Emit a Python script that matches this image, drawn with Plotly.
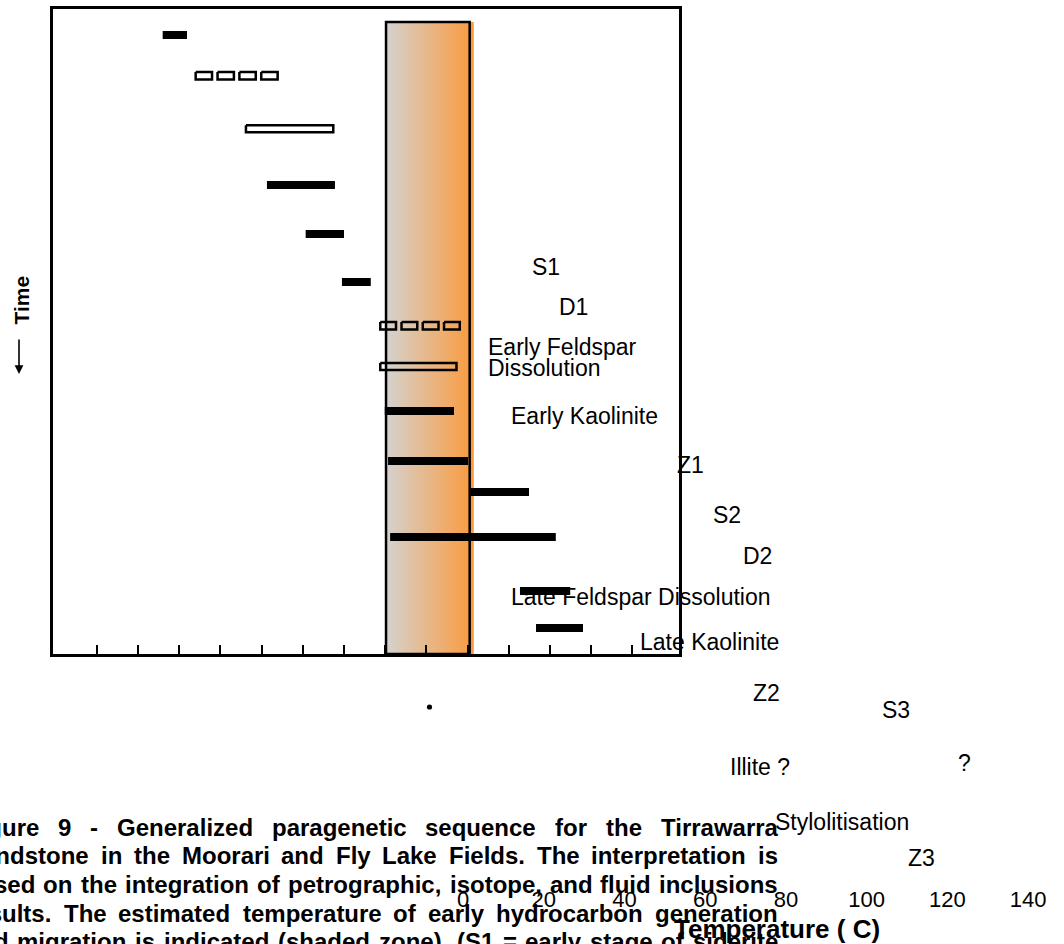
import plotly.graph_objects as go

W, H = 1064, 944

# ---------------- data ----------------
processes = ["S1", "D1", "Early Feldspar Dissolution", "Early Kaolinite", "Z1", "S2", "D2",
             "Late Feldspar Dissolution", "Late Kaolinite", "Z2", "S3", "Illite ?",
             "Stylolitisation", "Z3"]
rel_time = [2.06, 8.51, 16.88, 25.79, 33.54, 41.14, 48.07, 54.51, 61.55, 69.46, 74.37, 81.49,
            90.03, 95.89]
temp_start = [26.0, 33.7, 45.9, 51.3, 60.7, 69.5, 78.5, 78.5, 79.9, 80.7, 100.8, 81.2, 112.7, 116.6]
temp_end = [31.9, 54.2, 67.7, 67.8, 70.0, 76.5, 98.4, 97.6, 96.7, 100.1, 114.9, 121.4, 124.9, 128.0]
occurrence = ["common", "possible", "minor", "common", "common", "common", "possible",
              "minor", "common", "common", "common", "common", "common", "common"]
hc_zone = [80.2, 100.5]          # early hydrocarbon generation / migration (deg C)
axis_ticks = [10, 20, 30, 40, 50, 60, 70, 80, 90, 100, 110, 120, 130, 140]
temp_labels = [0, 20, 40, 60, 80, 100, 120, 140]
axis_title = "Temperature ( C)"
time_label = "Time"
caption_lines = [
    "Figure 9 - Generalized paragenetic sequence for the Tirrawarra",
    "Sandstone in the Moorari and Fly Lake Fields. The interpretation is",
    "based on the integration of petrographic, isotope, and fluid inclusions",
    "results. The estimated temperature of early hydrocarbon generation",
    "and migration is indicated (shaded zone). (S1 = early stage of siderite",
]

# ---------------- layout / style (pixels) ----------------
FONT = "Liberation Sans, Arial, Helvetica, sans-serif"
PLOT_X = (53, 679)
PLOT_Y = (9, 654)
X_RANGE = [-0.62, 151.3]
Y_RANGE = [100, -2.06]
STROKE = 2.5
BAR_H = {"common": 1.27, "minor": 1.1, "possible": 1.2}
ZONE_FILL_EXTRA = 1.0
label_pos = {
    "S1": [(531.7, 267.3)],
    "D1": [(559.0, 307.3)],
    "Early Feldspar Dissolution": [(487.7, 347.3), (487.7, 368.3)],
    "Early Kaolinite": [(510.7, 415.7)],
    "Z1": [(676.7, 465.0)],
    "S2": [(713.3, 515.0)],
    "D2": [(743.3, 556.0)],
    "Late Feldspar Dissolution": [(510.7, 596.7)],
    "Late Kaolinite": [(640.0, 641.7)],
    "Z2": [(753.0, 693.3)],
    "S3": [(881.7, 710.0)],
    "Illite ?": [(730.0, 766.7)],
    "Stylolitisation": [(775.0, 821.7)],
    "Z3": [(908.3, 858.3)],
}
label_lines = {"Early Feldspar Dissolution": ["Early Feldspar", "Dissolution"]}
question_pos = (958.0, 763.3)
dot_pos = (429.5, 707.0)
tick_label_zero_px = 463.0
tick_label_px_per_deg = 4.036
tick_axis_y = 884.0
caption_col = (-34.0, 778.0)
caption_y0, caption_dy = 827.0, 28.7


def px(x):
    return x / W


def py(y):
    return 1 - y / H


# Arial-Bold compatible advance widths (1/1000 em)
BOLD_W = {" ": 278, "-": 333, ".": 278, ",": 278, "(": 333, ")": 333, "=": 584,
          "F": 611, "G": 778, "L": 611, "M": 833, "S": 667, "T": 611,
          "a": 556, "b": 611, "c": 556, "d": 611, "e": 556, "f": 333, "g": 611, "h": 611,
          "i": 278, "j": 278, "k": 556, "l": 278, "m": 889, "n": 611, "o": 611, "p": 611,
          "q": 611, "r": 389, "s": 556, "t": 333, "u": 611, "v": 556, "w": 778, "x": 556,
          "y": 556, "z": 500}


def text_w(s, size):
    return sum(BOLD_W.get(c, 556) for c in s) * size / 1000.0


fig = go.Figure()

px_per_T = (PLOT_X[1] - PLOT_X[0]) / (X_RANGE[1] - X_RANGE[0])

# shaded zone with horizontal gradient (drawn first, under the bars)
z0, z1 = hc_zone
fig.add_trace(go.Scatter(
    x=[z0, z1 + ZONE_FILL_EXTRA, z1 + ZONE_FILL_EXTRA, z0, z0], y=[0, 0, 100, 100, 0],
    mode="lines", fill="toself", line=dict(width=0),
    fillgradient=dict(type="horizontal", colorscale=[[0, "#d5d2cf"], [1, "#fb9a3c"]]),
    hoverinfo="skip", showlegend=False))


def rect(s, e, t, h):
    return [s, e, e, s, s, None], [t - h / 2, t - h / 2, t + h / 2, t + h / 2, t - h / 2, None]


inset = (STROKE / 2) / px_per_T
gapT = (3 + STROKE) / px_per_T
solid_x, solid_y, open_x, open_y = [], [], [], []
for t, s, e, kind in zip(rel_time, temp_start, temp_end, occurrence):
    h = BAR_H[kind]
    if kind == "common":
        rx, ry = rect(s, e, t, h)
        solid_x += rx
        solid_y += ry
    elif kind == "minor":
        rx, ry = rect(s + inset, e - inset, t, h)
        open_x += rx
        open_y += ry
    else:
        s2, e2 = s + inset, e - inset
        seg = (e2 - s2 - 3 * gapT) / 4
        for k in range(4):
            b = s2 + k * (seg + gapT)
            rx, ry = rect(b, b + seg, t, h)
            open_x += rx
            open_y += ry

fig.add_trace(go.Scatter(x=solid_x, y=solid_y, mode="lines", fill="toself",
                         fillcolor="black", line=dict(width=0), hoverinfo="skip",
                         showlegend=False))
fig.add_trace(go.Scatter(x=open_x, y=open_y, mode="lines",
                         line=dict(color="black", width=STROKE), hoverinfo="skip",
                         showlegend=False))

# invisible trace to carry the displaced tick-label axis
fig.add_trace(go.Scatter(x=[temp_labels[0], temp_labels[-1]], y=[0.5, 0.5], xaxis="x2",
                         yaxis="y2", mode="markers", marker=dict(opacity=0),
                         hoverinfo="skip", showlegend=False))

annotations = []
for name in processes:
    lines = label_lines.get(name, [name])
    for txt, (lx, ly) in zip(lines, label_pos[name]):
        annotations.append(dict(text=txt, x=px(lx), y=py(ly), xref="paper", yref="paper",
                                xanchor="left", yanchor="middle", showarrow=False,
                                borderpad=0, borderwidth=0,
                                font=dict(size=23, family=FONT, color="black")))
annotations.append(dict(text="?", x=px(question_pos[0]), y=py(question_pos[1]), xref="paper",
                        yref="paper", xanchor="left", yanchor="middle", showarrow=False,
                        borderpad=0, borderwidth=0,
                        font=dict(size=23, family=FONT, color="black")))

# caption, justified word by word
cl, cr = caption_col
for i, line in enumerate(caption_lines):
    words = line.split(" ")
    widths = [text_w(w, 24) for w in words]
    gap = (cr - cl - sum(widths)) / (len(words) - 1)
    x = cl
    yc = caption_y0 + caption_dy * i
    for w, wd in zip(words, widths):
        annotations.append(dict(text="<b>" + w + "</b>", x=px(x), y=py(yc), xref="paper",
                                yref="paper", xanchor="left", yanchor="middle",
                                showarrow=False, borderpad=0, borderwidth=0,
                                font=dict(size=24, family=FONT, color="black")))
        x += wd + gap

annotations.append(dict(text="<b>" + axis_title + "</b>", x=px(777), y=py(929), xref="paper",
                        yref="paper", xanchor="center", yanchor="middle", showarrow=False,
                        font=dict(size=26, family=FONT, color="black")))
annotations.append(dict(text="<b>" + time_label + "</b>", x=px(20.5), y=py(300), xref="paper",
                        yref="paper", xanchor="center", yanchor="middle", textangle=-90,
                        showarrow=False, font=dict(size=21, family=FONT, color="black")))
annotations.append(dict(text="", x=px(19), y=py(374), xref="paper", yref="paper",
                        ax=0, ay=-36, showarrow=True, arrowhead=2, arrowsize=1.1,
                        arrowwidth=1.6, arrowcolor="black"))

shapes = [
    dict(type="rect", xref="x", yref="y", x0=z0, x1=z1, y0=0, y1=100,
         line=dict(color="black", width=STROKE), fillcolor="rgba(0,0,0,0)"),
    dict(type="circle", xref="paper", yref="paper", x0=px(dot_pos[0] - 2.6),
         x1=px(dot_pos[0] + 2.6), y0=py(dot_pos[1] + 2.6), y1=py(dot_pos[1] - 2.6),
         fillcolor="black", line=dict(width=0)),
]

r2_lo = (0 - tick_label_zero_px) / tick_label_px_per_deg
r2_hi = (W - tick_label_zero_px) / tick_label_px_per_deg

fig.update_layout(
    width=W, height=H, margin=dict(l=0, r=0, t=0, b=0, pad=0),
    paper_bgcolor="white", plot_bgcolor="rgba(0,0,0,0)",
    showlegend=False,
    xaxis=dict(domain=[px(PLOT_X[0]), px(PLOT_X[1])], range=X_RANGE, showgrid=False,
               zeroline=False, showline=True, linecolor="black", linewidth=STROKE, mirror=True,
               ticks="inside", ticklen=9, tickwidth=2, tickcolor="black",
               tickvals=axis_ticks, showticklabels=False, fixedrange=True),
    yaxis=dict(domain=[py(PLOT_Y[1]), py(PLOT_Y[0])], range=Y_RANGE, showgrid=False,
               zeroline=False, showline=True, linecolor="black", linewidth=STROKE, mirror=True,
               ticks="", showticklabels=False, fixedrange=True),
    xaxis2=dict(domain=[0, 1], anchor="free", position=py(tick_axis_y), range=[r2_lo, r2_hi],
                showgrid=False, zeroline=False, showline=False, ticks="",
                tickvals=temp_labels, ticktext=[str(v) for v in temp_labels],
                tickfont=dict(size=22, family=FONT, color="black"), fixedrange=True),
    yaxis2=dict(domain=[0, 1], anchor="free", position=0, range=[0, 1], visible=False,
                fixedrange=True),
    annotations=annotations, shapes=shapes,
)

fig.write_html("out.html", config={"displayModeBar": False},
               post_script="document.body.style.margin='0';document.body.style.overflow='hidden';")
